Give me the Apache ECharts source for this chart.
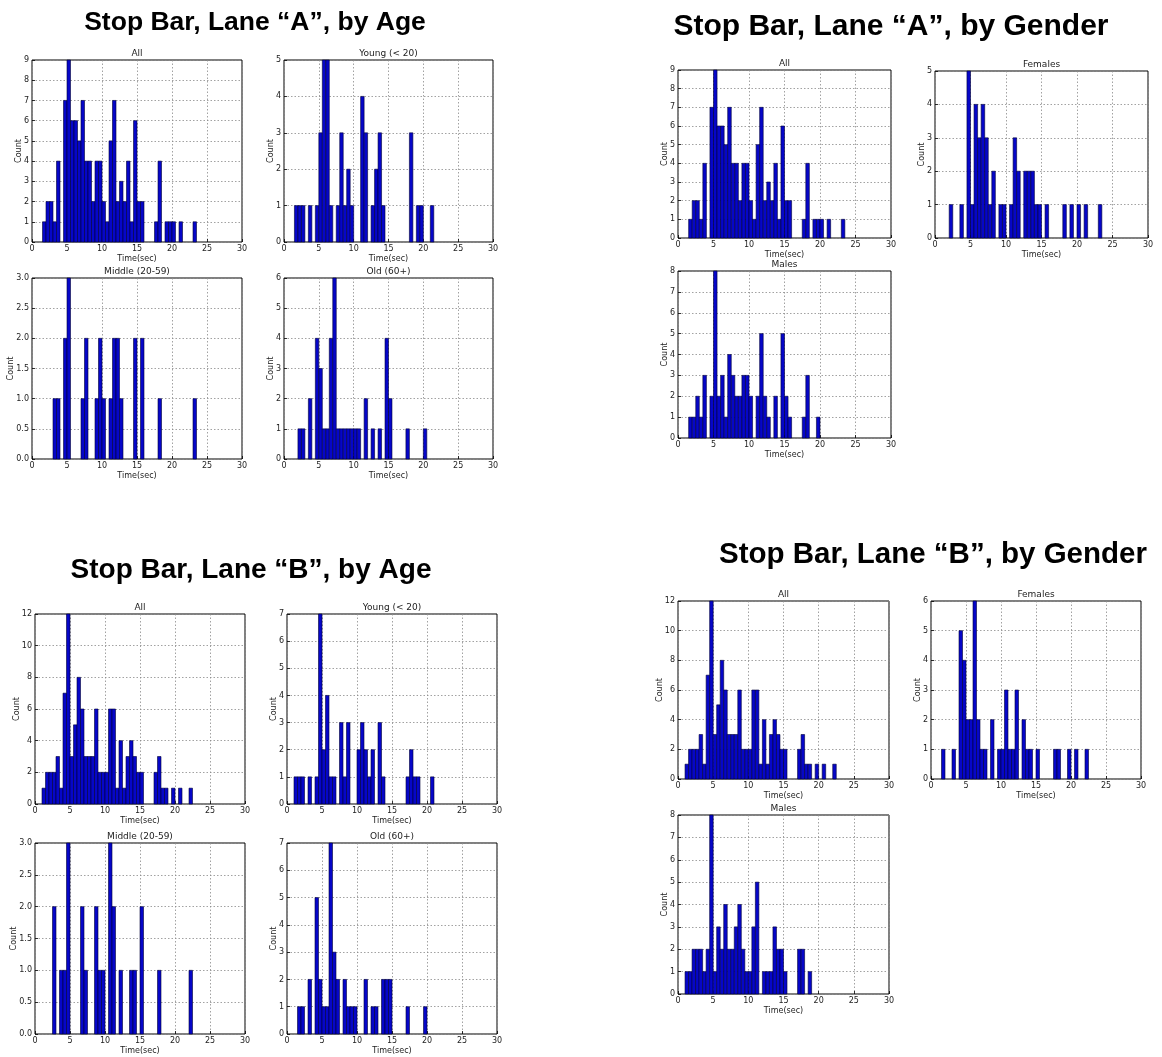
<!DOCTYPE html>
<html>
<head>
<meta charset="utf-8">
<script src="https://cdn.jsdelivr.net/npm/echarts@6/dist/echarts.min.js"></script>
<style>
html, body { margin: 0; padding: 0; background: #fff; }
#chart { width: 1162px; height: 1057px; }
</style>
</head>
<body>
<div id="chart"></div>
<script>
// histogram bins are 0.5 s wide; lane A bins start at 1.5 s, lane B bins at 1.0 s
const BIN_WIDTH = 0.5
const LANE_A_START = 1.5
const LANE_B_START = 1.0

// lane A counts per bin (1.5 .. 23.5 s)
const laneA_all     = [1,2,2,1,4,0,7,9,6,6,5,7,4,4,2,4,4,2,1,5,7,2,3,2,4,1,6,2,2,0,0,0,1,4,0,1,1,1,0,1,0,0,0,1]
const laneA_young   = [1,1,1,0,1,0,1,3,5,5,1,0,1,3,1,2,1,0,0,4,3,0,1,2,3,1,0,0,0,0,0,0,0,3,0,1,1,0,0,1,0,0,0,0]
const laneA_middle  = [0,0,0,1,1,0,2,3,0,0,0,1,2,0,0,1,2,1,0,1,2,2,1,0,0,0,2,0,2,0,0,0,0,1,0,0,0,0,0,0,0,0,0,1]
const laneA_old     = [0,1,1,0,2,0,4,3,1,1,4,6,1,1,1,1,1,1,1,0,2,0,1,0,1,0,4,2,0,0,0,0,1,0,0,0,0,1,0,0,0,0,0,0]
const laneA_females = [0,1,0,0,1,0,5,1,4,3,4,3,1,2,0,1,1,0,1,3,2,0,2,2,2,1,1,0,1,0,0,0,0,1,0,1,0,1,0,1,0,0,0,1]
const laneA_males   = [1,1,2,1,3,0,2,8,2,3,1,4,3,2,2,3,3,2,0,2,5,2,1,0,2,0,5,2,1,0,0,0,1,3,0,0,1,0,0,0,0,0,0,0]

// lane B counts per bin (1.0 .. 22.5 s)
const laneB_all     = [1,2,2,2,3,1,7,12,3,5,8,6,3,3,3,6,2,2,2,6,6,1,4,1,3,4,3,2,2,0,0,0,2,3,1,1,0,1,0,1,0,0,1]
const laneB_young   = [1,1,1,0,1,0,1,7,2,4,1,1,0,3,1,3,0,0,2,3,2,1,2,0,3,1,0,0,0,0,0,0,1,2,1,1,0,0,0,1,0,0,0]
const laneB_middle  = [0,0,0,2,0,1,1,3,0,0,0,2,1,0,0,2,1,1,0,3,2,0,1,0,0,1,1,0,2,0,0,0,0,1,0,0,0,0,0,0,0,0,1]
const laneB_old     = [0,1,1,0,2,0,5,2,1,1,7,3,2,0,2,1,1,1,0,0,2,0,1,1,0,2,2,2,0,0,0,0,1,0,0,0,0,1,0,0,0,0,0]
const laneB_females = [0,1,0,0,1,0,5,4,2,2,6,2,1,1,0,2,0,1,1,3,1,1,3,0,2,1,1,0,1,0,0,0,0,1,1,0,0,1,0,1,0,0,1]
const laneB_males   = [1,1,2,2,2,1,2,8,1,3,2,4,2,2,3,4,2,1,1,3,5,0,1,1,1,3,2,2,1,0,0,0,2,2,0,1,0,0,0,0,0,0,0]

const X_MIN = 0
const X_MAX = 30
const X_STEP = 5

const mainTitles = [
  { text: 'Stop Bar, Lane \u201cA\u201d, by Age', x: 255, y: 23, size: 26.5 },
  { text: 'Stop Bar, Lane \u201cA\u201d, by Gender', x: 891, y: 27, size: 30 },
  { text: 'Stop Bar, Lane \u201cB\u201d, by Age', x: 251, y: 570, size: 28 },
  { text: 'Stop Bar, Lane \u201cB\u201d, by Gender', x: 933, y: 555, size: 29.5 }
]

// box = [left, top, width, height] of each plot frame
const panels = [
  { title: 'All',            counts: laneA_all,     start: LANE_A_START, yMax: 9,  yStep: 1,   box: [32, 60, 210, 182] },
  { title: 'Young (< 20)',   counts: laneA_young,   start: LANE_A_START, yMax: 5,  yStep: 1,   box: [284, 60, 209, 182] },
  { title: 'Middle (20-59)', counts: laneA_middle,  start: LANE_A_START, yMax: 3,  yStep: 0.5, box: [32, 278, 210, 181] },
  { title: 'Old (60+)',      counts: laneA_old,     start: LANE_A_START, yMax: 6,  yStep: 1,   box: [284, 278, 209, 181] },
  { title: 'All',            counts: laneA_all,     start: LANE_A_START, yMax: 9,  yStep: 1,   box: [678, 70, 213, 168] },
  { title: 'Females',        counts: laneA_females, start: LANE_A_START, yMax: 5,  yStep: 1,   box: [935, 71, 213, 167] },
  { title: 'Males',          counts: laneA_males,   start: LANE_A_START, yMax: 8,  yStep: 1,   box: [678, 271, 213, 167] },
  { title: 'All',            counts: laneB_all,     start: LANE_B_START, yMax: 12, yStep: 2,   box: [35, 614, 210, 190] },
  { title: 'Young (< 20)',   counts: laneB_young,   start: LANE_B_START, yMax: 7,  yStep: 1,   box: [287, 614, 210, 190] },
  { title: 'Middle (20-59)', counts: laneB_middle,  start: LANE_B_START, yMax: 3,  yStep: 0.5, box: [35, 843, 210, 191] },
  { title: 'Old (60+)',      counts: laneB_old,     start: LANE_B_START, yMax: 7,  yStep: 1,   box: [287, 843, 210, 191] },
  { title: 'All',            counts: laneB_all,     start: LANE_B_START, yMax: 12, yStep: 2,   box: [678, 601, 211, 178] },
  { title: 'Females',        counts: laneB_females, start: LANE_B_START, yMax: 6,  yStep: 1,   box: [931, 601, 210, 178] },
  { title: 'Males',          counts: laneB_males,   start: LANE_B_START, yMax: 8,  yStep: 1,   box: [678, 815, 211, 179] }
]

const LABEL_FONT = 'DejaVu Sans, sans-serif'
const TEXT_COLOR = '#222'
const GRID_LINE = { color: '#8a8a8a', width: 0.8, type: [1.5, 2] }

function binData(counts, start) {
  return counts
    .map((c, i) => [start + i * BIN_WIDTH, start + (i + 1) * BIN_WIDTH, c])
    .filter(d => d[2] > 0)
}

function renderBin(params, api) {
  const top = api.coord([api.value(0), api.value(2)])
  const bottom = api.coord([api.value(1), 0])
  return {
    type: 'rect',
    shape: { x: top[0], y: top[1], width: bottom[0] - top[0], height: bottom[1] - top[1] },
    style: { fill: '#0606c8', stroke: '#000036', lineWidth: 0.6 }
  }
}

// matplotlib puts the ylabel just outside the widest tick label
function countGap(p) {
  if (p.yStep < 1) return 17
  return p.yMax >= 10 ? 14 : 9
}

const grid = []
const xAxis = []
const yAxis = []
const series = []
const graphic = []

panels.forEach((p, i) => {
  const [left, top, width, height] = p.box
  grid.push({
    left, top, width, height,
    show: true,
    borderColor: '#000',
    borderWidth: 1,
    backgroundColor: '#fff',
    containLabel: false
  })
  xAxis.push({
    type: 'value',
    gridIndex: i,
    min: X_MIN,
    max: X_MAX,
    interval: X_STEP,
    name: 'Time(sec)',
    nameLocation: 'middle',
    nameGap: 13,
    nameMoveOverlap: false,
    nameTextStyle: { fontFamily: LABEL_FONT, fontSize: 8, color: TEXT_COLOR },
    axisLine: { show: false },
    axisTick: { show: true, inside: true, length: 3, lineStyle: { color: '#000', width: 0.8 } },
    axisLabel: { fontFamily: LABEL_FONT, fontSize: 8, color: TEXT_COLOR, margin: 3 },
    splitLine: { show: true, lineStyle: GRID_LINE }
  })
  yAxis.push({
    type: 'value',
    gridIndex: i,
    min: 0,
    max: p.yMax,
    interval: p.yStep,
    name: 'Count',
    nameLocation: 'middle',
    nameRotate: 90,
    nameGap: countGap(p),
    nameMoveOverlap: false,
    nameTextStyle: { fontFamily: LABEL_FONT, fontSize: 8, color: TEXT_COLOR },
    axisLine: { show: false },
    axisTick: { show: true, inside: true, length: 3, lineStyle: { color: '#000', width: 0.8 } },
    axisLabel: {
      fontFamily: LABEL_FONT, fontSize: 8, color: TEXT_COLOR, margin: 3,
      formatter: v => (p.yStep < 1 ? v.toFixed(1) : String(v))
    },
    splitLine: { show: true, lineStyle: GRID_LINE }
  })
  series.push({
    type: 'custom',
    xAxisIndex: i,
    yAxisIndex: i,
    renderItem: renderBin,
    encode: { x: [0, 1], y: 2 },
    data: binData(p.counts, p.start),
    silent: true,
    animation: false
  })
  graphic.push({
    type: 'text',
    x: left + width / 2,
    y: top - 6,
    style: {
      text: p.title,
      fontFamily: LABEL_FONT,
      fontSize: 9,
      fill: TEXT_COLOR,
      align: 'center',
      verticalAlign: 'middle'
    }
  })
})

mainTitles.forEach(t => {
  graphic.push({
    type: 'text',
    x: t.x,
    y: t.y,
    style: {
      text: t.text,
      fontFamily: 'Liberation Sans, Arial, sans-serif',
      fontWeight: 'bold',
      fontSize: t.size,
      fill: '#000',
      align: 'center',
      verticalAlign: 'middle'
    }
  })
})

const chart = echarts.init(document.getElementById('chart'), null, { renderer: 'canvas' })
chart.setOption({
  backgroundColor: '#fff',
  animation: false,
  grid,
  xAxis,
  yAxis,
  series,
  graphic
})
</script>
</body>
</html>
